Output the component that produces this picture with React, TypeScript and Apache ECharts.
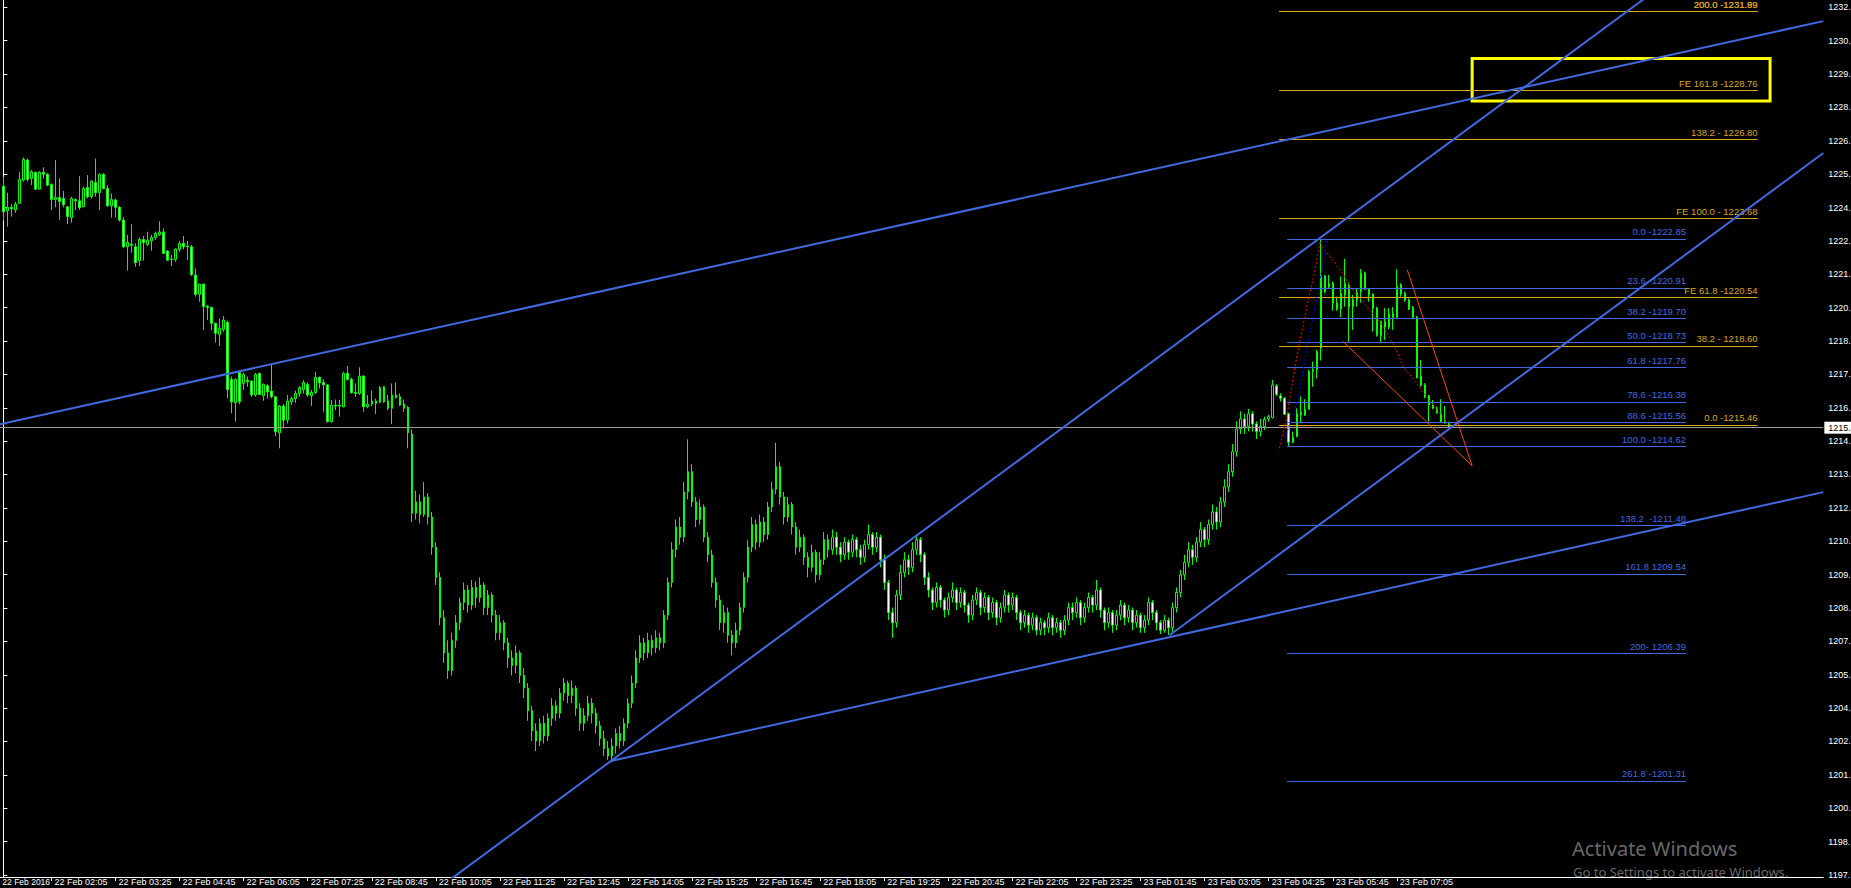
import React, { useEffect, useRef } from "react";
import * as echarts from "echarts";

// ---- axes ----
const xTickLabels = [
  "22 Feb 2016", "22 Feb 02:05", "22 Feb 03:25", "22 Feb 04:45", "22 Feb 06:05", "22 Feb 07:25",
  "22 Feb 08:45", "22 Feb 10:05", "22 Feb 11:25", "22 Feb 12:45", "22 Feb 14:05", "22 Feb 15:25",
  "22 Feb 16:45", "22 Feb 18:05", "22 Feb 19:25", "22 Feb 20:45", "22 Feb 22:05", "22 Feb 23:25",
  "23 Feb 01:45", "23 Feb 03:05", "23 Feb 04:25", "23 Feb 05:45", "23 Feb 07:05",
];
const yTickValues = [
  1232.06, 1230.73, 1229.41, 1228.08, 1226.75, 1225.43, 1224.1, 1222.77, 1221.45, 1220.12,
  1218.79, 1217.47, 1216.14, 1214.81, 1213.49, 1212.16, 1210.84, 1209.51, 1208.18, 1206.86,
  1205.53, 1204.2, 1202.88, 1201.55, 1200.22, 1198.9, 1197.57,
];
const yTickLabels = [
  "1232.", "1230.", "1229.", "1228.", "1226.", "1225.", "1224.", "1222.", "1221.", "1220.",
  "1218.", "1217.", "1216.", "1214.", "1213.", "1212.", "1210.", "1209.", "1208.", "1207.",
  "1205.", "1204.", "1202.", "1201.", "1200.", "1198.", "1197.",
];

// ---- candles [open, close, low, high]; bar index j counts from the first visible bar ----
const session1 = [
  [1224.95,1223.93,1223.58,1225.33],[1223.97,1224.11,1223.34,1224.69],[1224.11,1224.05,1223.74,1224.24],
  [1224.00,1224.24,1223.89,1224.33],[1224.27,1225.22,1224.24,1225.52],[1225.19,1226.01,1225.13,1226.09],
  [1225.99,1225.22,1225.13,1226.05],[1225.26,1225.52,1224.99,1225.59],[1225.50,1224.83,1224.80,1225.52],
  [1224.83,1225.50,1224.80,1225.55],[1225.50,1225.42,1225.25,1225.70],[1225.42,1224.99,1224.95,1225.46],
  [1225.02,1224.42,1224.00,1225.06],[1224.42,1224.50,1224.11,1225.99],[1224.50,1224.34,1223.60,1225.26],
  [1224.46,1224.21,1224.11,1224.76],[1224.13,1223.74,1223.44,1224.16],[1223.70,1224.46,1223.50,1224.53],
  [1224.42,1224.37,1224.00,1224.46],[1224.37,1224.09,1224.00,1225.35],[1224.13,1224.86,1224.11,1224.93],
  [1224.90,1224.53,1224.46,1225.39],[1224.53,1225.15,1224.46,1225.19],[1225.10,1224.69,1224.53,1226.05],
  [1224.69,1225.42,1224.00,1225.46],[1225.42,1224.86,1224.82,1225.46],[1224.86,1224.17,1224.13,1224.99],
  [1224.17,1224.42,1223.70,1224.66],[1224.40,1224.11,1223.70,1224.46],[1224.11,1223.60,1223.54,1224.16],
  [1223.60,1222.54,1222.48,1223.71],[1222.54,1222.71,1221.59,1223.01],[1222.64,1222.60,1222.30,1223.44],
  [1222.54,1221.91,1221.75,1222.68],[1221.99,1222.83,1221.77,1222.91],[1222.83,1222.71,1221.99,1222.97],
  [1222.62,1222.81,1222.57,1223.14],[1222.78,1222.91,1222.38,1223.01],[1222.91,1223.07,1222.81,1223.14],
  [1223.02,1223.13,1222.97,1223.56],[1223.13,1222.28,1222.25,1223.27],[1222.37,1222.01,1221.99,1222.41],
  [1222.03,1222.05,1221.77,1222.21],[1222.04,1222.45,1221.95,1222.48],[1222.44,1222.68,1222.34,1222.77],
  [1222.68,1222.54,1222.44,1222.97],[1222.57,1222.54,1222.01,1222.77],[1222.54,1221.44,1221.38,1222.61],
  [1221.42,1220.65,1220.56,1221.68],[1220.65,1221.06,1220.36,1221.06],[1221.06,1220.16,1219.23,1221.06],
  [1220.18,1220.13,1219.63,1220.22],[1220.13,1219.50,1219.23,1220.16],[1219.50,1219.10,1218.73,1219.52],
  [1219.06,1219.30,1218.59,1219.69],[1219.26,1219.63,1219.16,1219.79],[1219.54,1216.87,1216.51,1219.60],
  [1217.27,1216.38,1215.92,1217.38],[1216.34,1217.27,1215.59,1217.31],[1217.55,1216.38,1216.28,1217.61],
  [1217.11,1217.47,1216.85,1217.53],[1217.24,1217.18,1216.98,1217.38],[1217.20,1216.65,1216.58,1217.24],
  [1216.65,1217.47,1216.58,1217.53],[1217.51,1216.67,1216.65,1217.53],[1216.62,1217.07,1216.42,1217.11],
  [1217.02,1216.77,1216.51,1217.08],[1216.81,1216.58,1216.51,1217.87],[1216.58,1215.19,1215.02,1216.61],
  [1215.15,1216.21,1214.53,1216.25],[1216.21,1215.65,1215.32,1216.29],[1215.65,1216.41,1215.52,1216.65],
  [1216.38,1216.51,1216.25,1216.58],[1216.51,1216.71,1216.34,1216.82],[1216.71,1216.95,1216.58,1217.01],
  [1216.87,1217.15,1216.71,1217.24],[1217.07,1216.65,1216.58,1217.15],[1216.62,1216.75,1216.21,1216.85],
  [1216.75,1217.35,1216.69,1217.57],[1217.35,1217.14,1216.91,1217.38],[1217.15,1217.05,1215.98,1217.27],
  [1217.05,1215.59,1215.55,1217.08],[1215.59,1216.24,1215.55,1216.45],[1216.24,1216.21,1216.05,1216.47],
  [1216.21,1216.25,1215.79,1216.45],[1216.18,1217.51,1216.16,1217.57],[1217.51,1217.27,1217.22,1217.80],
  [1217.27,1216.74,1216.71,1217.34],[1216.75,1216.71,1216.58,1217.11],[1216.71,1217.40,1216.65,1217.75],
  [1217.40,1216.18,1215.98,1217.44],[1216.18,1216.28,1216.12,1216.65],[1216.29,1216.41,1216.21,1216.82],
  [1216.41,1216.32,1215.89,1216.51],[1216.36,1216.95,1216.32,1217.01],[1216.98,1216.38,1216.34,1217.01],
  [1216.41,1216.12,1216.05,1216.65],[1216.12,1216.65,1215.49,1217.11],[1216.65,1216.55,1216.51,1217.14],
  [1216.58,1216.25,1216.21,1216.71],[1216.29,1216.12,1215.98,1216.47],[1216.16,1215.15,1214.53,1216.21],
];
const session2 = [
  [1215.10,1211.95,1211.60,1215.28],[1211.95,1212.40,1211.70,1212.85],[1212.40,1211.90,1211.55,1212.70],
  [1211.90,1212.60,1211.80,1213.20],[1212.60,1211.80,1211.50,1212.75],[1211.80,1210.60,1210.30,1212.00],
  [1210.60,1209.40,1209.10,1210.80],[1209.40,1207.80,1207.50,1209.60],[1207.80,1206.40,1206.00,1208.10],
  [1206.40,1205.70,1205.37,1206.90],[1205.70,1206.90,1205.50,1207.20],[1206.90,1207.60,1206.60,1207.90],
  [1207.60,1208.40,1207.30,1208.60],[1208.40,1208.90,1208.10,1209.20],[1208.90,1208.30,1208.00,1209.10],
  [1208.30,1209.00,1208.10,1209.30],[1209.00,1208.60,1208.20,1209.25],[1208.60,1209.10,1208.40,1209.40],
  [1209.10,1208.20,1207.90,1209.20],[1208.20,1208.70,1207.90,1208.90],[1208.70,1207.90,1207.60,1208.80],
  [1207.90,1207.20,1206.90,1208.10],[1207.20,1207.60,1206.90,1207.90],[1207.60,1206.80,1206.50,1207.70],
  [1206.80,1206.20,1205.80,1207.00],[1206.20,1205.90,1205.50,1206.50],[1205.90,1206.40,1205.60,1206.70],
  [1206.40,1205.50,1205.20,1206.50],[1205.50,1205.00,1204.60,1205.80],[1205.00,1204.10,1203.70,1205.20],
  [1204.10,1203.30,1202.90,1204.30],[1203.30,1202.90,1202.50,1203.60],[1202.90,1203.60,1202.70,1203.80],
  [1203.60,1203.10,1202.80,1203.90],[1203.10,1203.80,1202.90,1204.00],[1203.80,1204.30,1203.50,1204.60],
  [1204.30,1204.00,1203.70,1204.50],[1204.00,1204.80,1203.80,1205.00],[1204.80,1205.20,1204.50,1205.40],
  [1205.20,1204.70,1204.40,1205.30],[1204.70,1205.00,1204.40,1205.30],[1205.00,1204.20,1203.90,1205.10],
  [1204.20,1203.60,1203.30,1204.40],[1203.60,1203.90,1203.30,1204.20],[1203.90,1204.40,1203.70,1204.70],
  [1204.40,1204.00,1203.60,1204.60],[1204.00,1203.50,1203.20,1204.20],[1203.50,1203.00,1202.70,1203.70],
  [1203.00,1202.60,1202.30,1203.30],[1202.60,1202.30,1202.15,1202.90],[1202.30,1202.70,1202.05,1203.00],
  [1202.70,1203.20,1202.40,1203.40],[1203.20,1202.90,1202.60,1203.50],[1202.90,1203.60,1202.70,1203.80],
  [1203.60,1204.40,1203.40,1204.60],[1204.40,1205.20,1204.20,1205.50],[1205.20,1206.20,1205.00,1206.50],
  [1206.20,1206.80,1206.00,1207.10],[1206.80,1206.40,1206.10,1207.00],[1206.40,1206.90,1206.20,1207.20],
  [1206.90,1206.60,1206.30,1207.10],[1206.60,1207.00,1206.40,1207.30],[1207.00,1206.80,1206.50,1207.20],
  [1206.80,1207.90,1206.60,1208.10],[1207.90,1209.20,1207.70,1209.40],[1209.20,1210.50,1209.00,1210.80],
  [1210.50,1211.40,1210.20,1211.70],[1211.40,1211.00,1210.70,1211.80],[1211.00,1212.80,1210.80,1213.20],
];
const session3 = [
  [1212.80,1213.60,1212.50,1214.89],[1213.60,1212.40,1212.20,1213.90],[1212.40,1211.70,1211.40,1212.60],
  [1211.70,1212.20,1211.50,1212.50],[1212.20,1211.00,1210.80,1212.30],[1211.00,1210.30,1210.00,1211.20],
  [1210.30,1209.20,1209.00,1210.50],[1209.20,1208.50,1208.20,1209.40],[1208.50,1207.60,1207.30,1208.70],
  [1207.60,1208.00,1207.20,1208.30],[1208.00,1207.10,1206.80,1208.20],[1207.10,1206.80,1206.30,1207.30],
  [1206.80,1207.30,1206.60,1207.60],[1207.30,1208.20,1207.10,1208.40],[1208.20,1209.40,1208.00,1209.60],
  [1209.40,1210.60,1209.20,1210.90],[1210.60,1211.50,1210.40,1211.80],[1211.50,1210.80,1210.50,1211.70],
  [1210.80,1211.60,1210.60,1211.90],[1211.60,1211.10,1210.80,1211.80],[1211.10,1212.20,1210.90,1212.40],
  [1212.20,1212.90,1212.00,1213.20],[1212.90,1213.80,1212.70,1214.75],[1213.80,1212.60,1212.30,1214.00],
  [1212.60,1211.80,1211.50,1212.80],[1211.80,1212.30,1211.60,1212.60],[1212.30,1211.40,1211.10,1212.40],
  [1211.40,1210.60,1210.30,1211.60],[1210.60,1211.00,1210.40,1211.30],[1211.00,1210.20,1209.90,1211.10],
  [1210.20,1209.80,1209.40,1210.40],[1209.80,1210.40,1209.60,1210.70],[1210.40,1209.50,1209.20,1210.50],
  [1209.50,1210.10,1209.30,1210.40],[1210.10,1210.90,1209.90,1211.20],[1210.90,1210.50,1210.20,1211.10],
  [1210.50,1211.00,1210.30,1211.30],[1211.00,1210.60,1210.30,1211.20],[1210.60,1210.30,1210.00,1210.80],
  [1210.30,1210.80,1210.10,1211.00],[1210.80,1210.40,1210.10,1210.90],[1210.40,1210.90,1210.20,1211.10],
  [1210.90,1210.50,1210.20,1211.00],[1210.50,1210.20,1209.90,1210.70],[1210.20,1210.70,1210.00,1210.90],
  [1210.70,1211.10,1210.50,1211.50],[1211.10,1210.60,1210.30,1211.20],[1210.60,1211.00,1210.40,1211.20],
  [1211.00,1210.10,1209.80,1211.10],[1210.10,1209.20,1208.90,1210.30],[1209.20,1208.00,1207.70,1209.30],
  [1208.00,1207.60,1207.00,1208.20],[1207.60,1208.70,1207.40,1208.90],[1208.70,1209.60,1208.50,1209.90],
  [1209.60,1210.10,1209.40,1210.40],[1210.10,1209.80,1209.50,1210.30],[1209.80,1210.50,1209.60,1210.80],
  [1210.50,1210.90,1210.30,1211.10],[1210.90,1210.30,1210.00,1211.00],[1210.30,1209.40,1209.10,1210.40],
  [1209.40,1208.90,1208.60,1209.60],[1208.90,1208.40,1208.10,1209.00],[1208.40,1209.00,1208.20,1209.20],
  [1209.00,1208.50,1208.20,1209.10],[1208.50,1208.10,1207.80,1208.60],[1208.10,1208.60,1207.90,1208.80],
  [1208.60,1208.90,1208.40,1209.20],[1208.90,1208.40,1208.10,1209.00],[1208.40,1208.80,1208.20,1209.00],
  [1208.80,1208.30,1208.00,1208.90],[1208.30,1207.90,1207.60,1208.40],[1207.90,1208.50,1207.70,1208.70],
  [1208.50,1208.80,1208.30,1209.00],[1208.80,1208.20,1207.90,1208.90],[1208.20,1208.60,1208.00,1208.80],
  [1208.60,1208.00,1207.70,1208.70],[1208.00,1208.40,1207.80,1208.60],[1208.40,1207.80,1207.50,1208.50],
  [1207.80,1208.20,1207.60,1208.40],[1208.20,1208.70,1208.00,1208.90],[1208.70,1208.30,1208.00,1208.80],
  [1208.30,1208.60,1208.10,1208.80],[1208.60,1208.00,1207.70,1208.70],[1208.00,1207.60,1207.30,1208.10],
  [1207.60,1207.90,1207.40,1208.10],[1207.90,1207.50,1207.20,1208.00],[1207.50,1207.80,1207.30,1208.00],
  [1207.80,1207.30,1207.10,1207.90],[1207.30,1207.60,1207.10,1207.80],[1207.60,1207.40,1207.10,1207.70],
  [1207.40,1207.80,1207.20,1208.00],[1207.80,1207.40,1207.10,1207.90],[1207.40,1207.60,1207.20,1207.80],
  [1207.60,1207.30,1207.00,1207.70],[1207.30,1207.70,1207.10,1207.90],[1207.70,1208.20,1207.50,1208.40],
  [1208.20,1208.00,1207.70,1208.40],[1208.00,1208.40,1207.80,1208.60],[1208.40,1207.80,1207.50,1208.50],
  [1207.80,1208.20,1207.60,1208.40],[1208.20,1208.60,1208.00,1208.80],[1208.60,1208.30,1208.00,1208.70],
  [1208.30,1208.90,1208.10,1209.30],[1208.90,1208.10,1207.80,1209.00],[1208.10,1207.60,1207.30,1208.20],
  [1207.60,1208.00,1207.40,1208.20],[1208.00,1207.50,1207.20,1208.10],[1207.50,1207.90,1207.30,1208.10],
  [1207.90,1208.30,1207.70,1208.50],[1208.30,1207.80,1207.50,1208.40],[1207.80,1208.10,1207.60,1208.30],
  [1208.10,1207.60,1207.30,1208.20],[1207.60,1207.90,1207.40,1208.10],[1207.90,1207.40,1207.20,1208.00],
  [1207.40,1207.70,1207.20,1207.90],[1207.70,1208.40,1207.50,1208.60],[1208.40,1208.00,1207.70,1208.50],
  [1208.00,1207.60,1207.30,1208.10],[1207.60,1207.30,1207.15,1207.70],[1207.30,1207.70,1207.20,1207.90],
  [1207.70,1207.40,1207.11,1207.80],[1207.40,1208.20,1207.20,1208.40],[1208.20,1208.80,1208.00,1209.00],
  [1208.80,1209.50,1208.60,1209.70],[1209.50,1210.00,1209.30,1210.30],[1210.00,1210.50,1209.80,1210.80],
  [1210.50,1210.20,1209.90,1210.70],[1210.20,1210.80,1210.00,1211.00],[1210.80,1211.30,1210.60,1211.60],
  [1211.30,1210.90,1210.60,1211.40],[1210.90,1211.50,1210.70,1211.70],[1211.50,1212.00,1211.30,1212.30],
  [1212.00,1211.60,1211.30,1212.20],[1211.60,1212.40,1211.40,1212.60],[1212.40,1213.00,1212.20,1213.30],
  [1213.00,1213.60,1212.80,1213.90],[1213.60,1214.40,1213.40,1214.70],[1214.40,1215.30,1214.20,1215.60],
  [1215.30,1215.70,1215.10,1216.00],[1215.70,1215.40,1215.10,1215.90],[1215.40,1215.90,1215.20,1216.10],
  [1215.90,1215.50,1215.20,1216.00],[1215.50,1215.20,1214.90,1215.60],[1215.20,1215.40,1215.00,1215.70],
];
const session4 = [
  [1215.39,1215.68,1215.26,1215.79],[1215.70,1215.79,1215.59,1215.86],[1215.75,1217.05,1215.72,1217.25],
  [1217.01,1216.68,1216.61,1217.09],[1216.61,1216.52,1216.39,1216.72],[1216.52,1215.88,1215.86,1216.56],
  [1215.90,1214.77,1214.62,1215.95],[1214.76,1214.97,1214.73,1215.19],[1214.99,1215.90,1214.97,1216.12],
  [1215.86,1215.95,1215.53,1216.59],[1215.84,1216.08,1215.82,1216.48],[1216.08,1217.58,1216.06,1217.65],
  [1217.59,1217.65,1216.98,1217.98],[1217.65,1218.37,1217.31,1218.44],[1218.51,1221.36,1218.02,1222.85],
  [1221.38,1220.76,1220.69,1221.42],[1221.06,1220.96,1220.89,1221.42],[1221.09,1220.30,1220.00,1221.16],
  [1220.30,1220.07,1220.00,1220.56],[1220.07,1220.69,1219.74,1221.36],[1220.63,1221.09,1220.16,1222.06],
  [1221.02,1220.16,1218.77,1221.12],[1220.16,1220.43,1219.24,1220.63],[1220.43,1220.72,1220.16,1220.89],
  [1220.76,1221.49,1220.32,1221.65],[1221.49,1220.85,1220.83,1221.55],[1220.85,1220.63,1220.36,1220.89],
  [1220.65,1220.10,1219.17,1220.69],[1220.10,1219.04,1218.97,1220.16],[1219.00,1219.57,1218.71,1219.61],
  [1219.57,1219.34,1218.84,1220.10],[1219.34,1219.87,1219.26,1220.10],[1219.73,1219.90,1219.24,1220.14],
  [1219.73,1220.96,1219.70,1221.65],[1221.02,1220.67,1220.56,1221.09],[1220.69,1220.43,1220.36,1220.76],
  [1220.43,1220.06,1220.03,1220.49],[1220.12,1219.74,1219.70,1220.19],[1219.74,1217.34,1217.31,1219.79],
  [1217.41,1217.05,1216.98,1218.04],[1217.05,1216.59,1216.52,1217.12],[1216.61,1216.25,1215.59,1216.65],
  [1216.25,1216.12,1216.08,1216.45],[1216.08,1215.95,1215.90,1216.19],[1215.90,1215.59,1215.55,1216.48],
  [1215.59,1215.55,1215.50,1216.21],[1215.49,1215.37,1215.37,1215.59],
];

// ---- drawn objects (bar index, price) ----
const bidPrice = 1215.35;
const trendA = [[-4.5, 1215.36], [454.5, 1231.51]];
const trendB = [[100, 1196.03], [420, 1233.6]];
const trendC = [[151.7, 1202.1], [454.5, 1212.79]];
const trendD = [[291.3, 1207.11], [454.5, 1226.27]];
const redDotted = [
  [318.63, 1214.53], [320.5, 1215.79], [322.99, 1218.17], [325.49, 1220.16], [327.57, 1221.62],
  [328.81, 1222.74], [329.64, 1222.48], [334.23, 1221.55], [336.31, 1220.95], [341.3, 1220.03],
  [344.62, 1219.36], [347.54, 1218.57], [349.61, 1217.77], [352.96, 1217.11], [355.46, 1216.58],
  [357.95, 1216.05], [360.45, 1215.59],
];
const blueDotted = [
  [320.07, 1214.93], [323.39, 1216.52], [325.49, 1218.44], [327.57, 1220.16], [329.25, 1221.62], [330.49, 1222.81],
];
const wedgeUpper = [[350.6, 1221.62], [366.8, 1213.83]];
const wedgeLower = [[334.63, 1218.77], [366.8, 1213.83]];
const targetBox = [[366.8, 1230.02], [441.2, 1228.33]];

const blueFibRange = [320.6, 420.2];
const blueFibLevels = [1222.85, 1220.91, 1219.7, 1218.73, 1217.76, 1216.38, 1215.56, 1214.62, 1211.48, 1209.54, 1206.39, 1201.31];
const blueFibTexts = [
  "0.0 -1222.85", "23.6 -1220.91", "38.2 -1219.70", "50.0 -1218.73", "61.8 -1217.76", "78.6 -1216.38",
  "88.6 -1215.56", "100.0 -1214.62", "138.2  -1211.48", "161.8 1209.54", "200- 1206.39", "261.8 -1201.31",
];
const orangeFibRange = [318.6, 438.1];
const orangeFibLevels = [1231.9, 1231.9, 1228.76, 1226.8, 1223.68, 1220.54, 1218.6, 1215.46];
const orangeFibTexts = [
  "200.0 -1231.99", "200.0 -1231.89", "FE 161.8 -1228.76", "138.2 - 1226.80", "FE 100.0 - 1223.68",
  "FE 61.8 -1220.54", "38.2 - 1218.60", "0.0 -1215.46",
];

const OFFSET = 4; // categories before the first full bar
const NCAT = 459;
const FIRST_LABEL_CAT = 3; // the date label, nudged in so it stays on the page
const Y_MIN = 1197.492;
const Y_MAX = 1232.349;
const BLUE = "#4169E1";
const GOLD = "#DAA520";

function hasFont(name: string) {
  try {
    const ctx = document.createElement("canvas").getContext("2d");
    if (!ctx) return false;
    const s = "22 Feb 02:05 1232.";
    ctx.font = "20px monospace";
    const a = ctx.measureText(s).width;
    ctx.font = `20px "${name}", monospace`;
    const b = ctx.measureText(s).width;
    return Math.abs(a - b) > 0.5;
  } catch (e) {
    return false;
  }
}

function labelIndexOf(c: number) {
  if (c === FIRST_LABEL_CAT) return 0;
  if (c > 0 && c % 16 === 0 && c / 16 < xTickLabels.length) return c / 16;
  return -1;
}

function buildCandles() {
  const rows: number[][] = [];
  const push = (j: number, t: number[]) => rows.push([j + OFFSET, t[0], t[1], t[2], t[3]]);
  session1.forEach((t, i) => push(i, t));
  session2.forEach((t, i) => push(102 + i, t));
  session3.forEach((t, i) => push(171 + i, t));
  session4.forEach((t, i) => push(315 + i, t));
  return rows;
}

function lineSeries(data: number[][], color: string, width: number, type: any = "solid") {
  return {
    type: "line", xAxisIndex: 1, yAxisIndex: 0, data, symbol: "none", silent: true,
    clip: true, z: 5, lineStyle: { color, width, type }, animation: false,
  };
}

function buildOption() {
  const narrow = hasFont("Liberation Sans Narrow");
  const AX_FONT = narrow ? '"Liberation Sans Narrow", "Liberation Sans", sans-serif' : '"Liberation Sans", Arial, sans-serif';
  const X_SIZE = narrow ? 11 : 9;
  const Y_SIZE = narrow ? 10 : 9;
  const FIB_SIZE = narrow ? 10 : 9.5;

  const cats = Array.from({ length: NCAT }, (_, c) => `c${c}`);
  const xLabelOf = (v: string) => {
    const c = parseInt(v.slice(1), 10);
    const k = labelIndexOf(c);
    if (k < 0) return "";
    return c === FIRST_LABEL_CAT ? `{s|${xTickLabels[k]}}` : xTickLabels[k];
  };
  const fibMarks: any[] = [];
  const fibLabel = (text: string, color: string) => ({
    show: true, position: "insideEndTop", formatter: text, color, fontSize: FIB_SIZE, fontFamily: AX_FONT, distance: [0, 2],
  });
  blueFibLevels.forEach((lv, i) => {
    fibMarks.push([
      { coord: [blueFibRange[0], lv], lineStyle: { color: BLUE, width: 1, type: "solid" }, label: fibLabel(blueFibTexts[i], BLUE) },
      { coord: [blueFibRange[1], lv] },
    ]);
  });
  orangeFibLevels.forEach((lv, i) => {
    fibMarks.push([
      { coord: [orangeFibRange[0], lv], lineStyle: { color: GOLD, width: 1, type: "solid" }, label: fibLabel(orangeFibTexts[i], GOLD) },
      { coord: [orangeFibRange[1], lv] },
    ]);
  });
  fibMarks.push({
    yAxis: bidPrice, lineStyle: { color: "#9a9a9a", width: 1, type: "solid" },
    label: { show: true, position: "end", formatter: "1215.", color: "#000", backgroundColor: "#fff",
      padding: [2, 1, 1, 4], fontSize: Y_SIZE, fontFamily: AX_FONT, distance: 1 },
  });

  return {
    animation: false,
    backgroundColor: "#000000",
    grid: { left: -14.67, top: 0, width: 1838, height: 877, containLabel: false, outerBoundsMode: "none" },
    xAxis: [
      {
        type: "category", data: cats, boundaryGap: true,
        axisLine: { show: true, lineStyle: { color: "#ffffff", width: 1 } },
        axisTick: { show: true, alignWithLabel: true, interval: (i: number) => labelIndexOf(i) >= 0, length: 4, lineStyle: { color: "#ffffff" } },
        axisLabel: {
          show: true, interval: (i: number) => labelIndexOf(i) >= 0, formatter: xLabelOf, color: "#ffffff",
          fontSize: X_SIZE, fontFamily: AX_FONT, lineHeight: X_SIZE, align: "left", margin: 0, padding: [0, 0, 0, 3],
          hideOverlap: false,
          rich: { s: { fontSize: X_SIZE - 0.5, fontFamily: AX_FONT, color: "#ffffff", lineHeight: X_SIZE } },
        },
        splitLine: { show: false },
      },
      { type: "value", min: -4.5, max: 454.5, show: false },
    ],
    yAxis: [
      {
        type: "value", position: "right", min: Y_MIN, max: Y_MAX,
        axisLine: { show: true, lineStyle: { color: "#ffffff", width: 1 } },
        axisTick: { show: true, customValues: yTickValues, length: 4, inside: false, lineStyle: { color: "#ffffff" } },
        axisLabel: {
          show: true, customValues: yTickValues, color: "#ffffff", fontSize: Y_SIZE, fontFamily: AX_FONT, margin: 5,
          formatter: (v: number) => {
            let best = 0;
            yTickValues.forEach((t, k) => { if (Math.abs(t - v) < Math.abs(yTickValues[best] - v)) best = k; });
            return yTickLabels[best];
          },
        },
        splitLine: { show: false },
      },
    ],
    series: [
      {
        type: "candlestick", xAxisIndex: 0, yAxisIndex: 0, data: buildCandles(),
        encode: { x: 0, y: [1, 2, 3, 4] }, barWidth: 2, silent: true, z: 2,
        itemStyle: { color: "#000000", color0: "#ffffff", borderColor: "#00ff00", borderColor0: "#00ff00", borderWidth: 1 },
      },
      {
        type: "line", xAxisIndex: 1, yAxisIndex: 0, data: [[-4.5, bidPrice]], symbol: "none", silent: true, z: 4,
        lineStyle: { opacity: 0 },
        markLine: { silent: true, symbol: ["none", "none"], animation: false, data: fibMarks },
        markArea: {
          silent: true, animation: false,
          itemStyle: { color: "rgba(0,0,0,0)", borderColor: "#FFFF00", borderWidth: 3 },
          data: [[{ coord: targetBox[0] }, { coord: targetBox[1] }]],
        },
      },
      lineSeries(trendA, BLUE, 2),
      lineSeries(trendB, BLUE, 2),
      lineSeries(trendC, BLUE, 2),
      lineSeries(trendD, BLUE, 2),
      lineSeries(redDotted, "#ff0000", 1, [2, 2]),
      lineSeries(blueDotted, "#0000ff", 1, [2, 2]),
      lineSeries(wedgeUpper, "#ff4500", 1),
      lineSeries(wedgeLower, "#ff4500", 1),
    ],
    graphic: [
      { type: "text", left: 1572, top: 838, silent: true,
        style: { text: "Activate Windows", fill: "rgba(255,255,255,0.42)", font: '20px "Noto Sans"' } },
      { type: "text", left: 1573, top: 865, silent: true,
        style: { text: "Go to Settings to activate Windows.", fill: "rgba(255,255,255,0.42)", font: '13px "Noto Sans"' } },
    ],
  };
}

export default function App() {
  const ref = useRef<HTMLDivElement>(null);
  useEffect(() => {
    document.body.style.margin = "0";
    document.body.style.background = "#000";
    const chart = echarts.init(ref.current!, null, { renderer: "svg" });
    chart.setOption(buildOption() as any);
    return () => chart.dispose();
  }, []);
  return (
    <div
      ref={ref}
      style={{ position: "fixed", left: 0, top: 0, width: 1851, height: 888, background: "#000", overflow: "hidden" }}
    />
  );
}
